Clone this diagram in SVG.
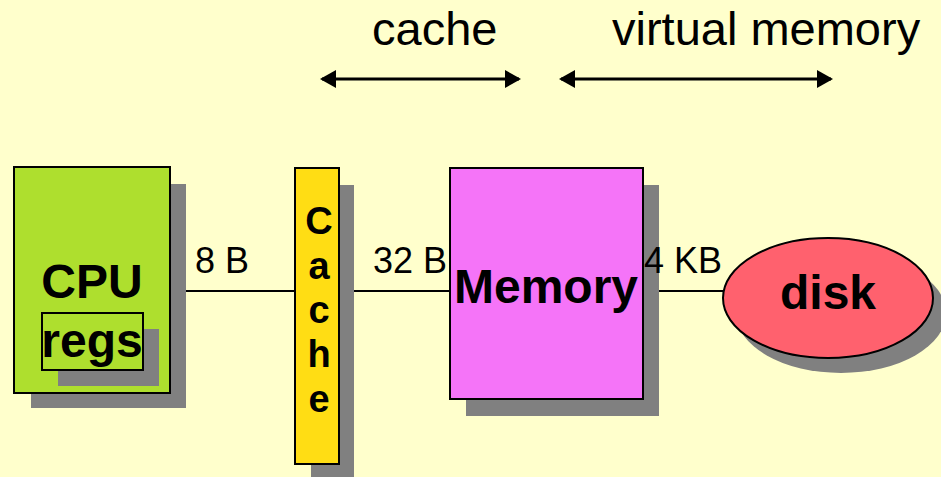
<svg xmlns="http://www.w3.org/2000/svg" width="941" height="477" viewBox="0 0 941 477">
  <style>
    .shadow { fill: #808080; stroke: none; }
    .box { stroke: #000; stroke-width: 2; }
    .wire { stroke: #000; stroke-width: 2; fill: none; }
    .span { stroke: #000; stroke-width: 3; fill: none; marker-start: url(#head); marker-end: url(#head); }
    .big { font-family: "Liberation Sans", Arial, sans-serif; font-weight: bold; font-size: 48px; fill: #000; text-anchor: middle; }
    .letter { font-family: "Liberation Sans", Arial, sans-serif; font-weight: bold; font-size: 38px; fill: #000; text-anchor: middle; }
    .size { font-family: "Liberation Sans", Arial, sans-serif; font-size: 36px; fill: #000; }
    .title { font-family: "Liberation Sans", Arial, sans-serif; font-size: 47px; fill: #000; }
  </style>
  <defs>
    <marker id="head" viewBox="0 0 16 18" refX="14" refY="9" markerWidth="16" markerHeight="18" markerUnits="userSpaceOnUse" orient="auto-start-reverse">
      <path d="M0,0 L16,9 L0,18 Z" fill="#000"/>
    </marker>
  </defs>

  <rect width="941" height="477" fill="#FFFFCC"/>

  <!-- range labels -->
  <g id="ranges">
    <text class="title" x="372" y="45">cache</text>
    <text class="title" x="612" y="45">virtual memory</text>
    <line class="span" x1="322" y1="79" x2="519" y2="79"/>
    <line class="span" x1="561" y1="79" x2="831" y2="79"/>
  </g>

  <!-- transfer links -->
  <g id="connectors">
    <line class="wire" x1="170" y1="291" x2="294" y2="291"/>
    <line class="wire" x1="339" y1="291" x2="449" y2="291"/>
    <line class="wire" x1="643" y1="291" x2="723" y2="291"/>
  </g>

  <g id="cpu">
    <rect class="shadow" x="31" y="184" width="155" height="224"/>
    <rect class="box" x="14" y="167" width="156" height="226" fill="#AEDF2E"/>
    <text class="big" x="92" y="298">CPU</text>
    <rect class="shadow" x="58" y="329" width="101" height="57"/>
    <rect class="box" x="42" y="313" width="101" height="57" fill="#AEDF2E"/>
    <text class="big" x="92" y="357">regs</text>
  </g>

  <g id="cache">
    <rect class="shadow" x="311" y="185" width="43" height="292"/>
    <rect class="box" x="295" y="168" width="44" height="296" fill="#FFDD14"/>
    <text class="letter" x="319" y="234">C</text>
    <text class="letter" x="319" y="279">a</text>
    <text class="letter" x="319" y="323">c</text>
    <text class="letter" x="319" y="367">h</text>
    <text class="letter" x="319" y="412">e</text>
  </g>

  <g id="memory">
    <rect class="shadow" x="466" y="185" width="193" height="231"/>
    <rect class="box" x="450" y="168" width="193" height="231" fill="#F574F8"/>
    <text class="big" x="546" y="303">Memory</text>
  </g>

  <g id="disk">
    <ellipse class="shadow" cx="841" cy="313" rx="105" ry="60"/>
    <ellipse class="box" cx="828" cy="298" rx="105" ry="60" fill="#FF616E"/>
    <text class="big" x="828" y="309">disk</text>
  </g>

  <!-- block sizes moved between levels -->
  <g id="link-labels">
    <text class="size" x="195" y="273">8 B</text>
    <text class="size" x="373" y="273">32 B</text>
    <text class="size" x="644" y="273">4 KB</text>
  </g>
</svg>
